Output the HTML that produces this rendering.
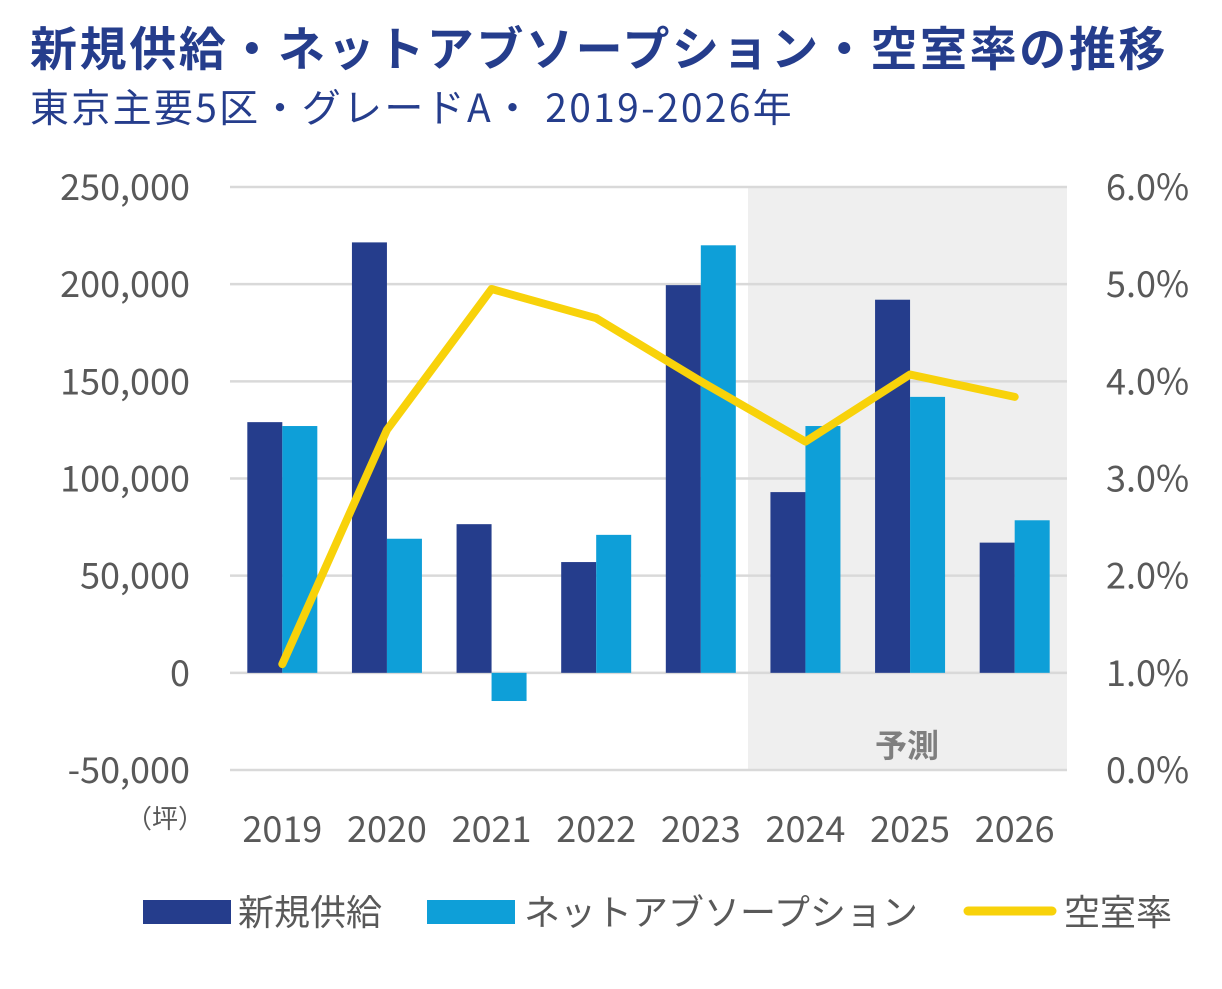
<!DOCTYPE html>
<html><head><meta charset="utf-8"><style>
body{margin:0;background:#fff;width:1222px;height:989px;overflow:hidden;font-family:"Noto Sans CJK JP","Liberation Sans",sans-serif;}
.t{position:absolute;left:30px;color:#253d8c;white-space:nowrap;font-family:"Noto Sans CJK JP",sans-serif;}
svg text{font-family:"Noto Sans CJK JP","Liberation Sans",sans-serif;}
</style></head><body>
<div class="t" style="top:12px;font-size:47px;line-height:68px;font-weight:bold;letter-spacing:2.6px;">新規供給・ネットアブソープション・空室率の推移</div>
<div class="t" style="top:78px;font-size:39px;line-height:56px;letter-spacing:2.3px;">東京主要5区・グレードA・ 2019-2026年</div>
<svg id="c" width="1222" height="989" style="position:absolute;left:0;top:0"></svg>
<script>
const categories=["2019","2020","2021","2022","2023","2024","2025","2026"];
const supply=[129000,221500,76500,57000,199500,93000,192000,67000];
const absorption=[127000,69000,-14500,71000,220000,127000,142000,78500];
const vacancy=[1.09,3.5,4.95,4.65,4.0,3.38,4.07,3.84];
const leftTicks=[250000,200000,150000,100000,50000,0,-50000];
const rightTicks=[6,5,4,3,2,1,0];
const NS="http://www.w3.org/2000/svg";
const svg=document.getElementById('c');
const x0=230,x1=1067,yTop=187,yBot=770;
const yL=v=>yTop+(250000-v)/300000*(yBot-yTop);
const yR=v=>yTop+(6-v)/6*(yBot-yTop);
const bw=(x1-x0)/categories.length;
const xc=i=>x0+bw*(i+0.5);
function mk(t,a,txt){const e=document.createElementNS(NS,t);for(const k in a)e.setAttribute(k,a[k]);if(txt!=null)e.textContent=txt;svg.appendChild(e);return e;}
let e=mk('rect',{x:748,y:yTop,width:x1-748,height:yBot-yTop,fill:'#efefef'});


leftTicks.forEach(v=>{
 let g=mk('line',{x1:x0,x2:x1,y1:yL(v),y2:yL(v),stroke:'#d9d9d9','stroke-width':2.5});
 
 
 let t=mk('text',{x:190,y:yL(v)+13,'text-anchor':'end','font-size':36,fill:'#595959'},v.toLocaleString('en-US'));
 
 
});
rightTicks.forEach(v=>{
 let t=mk('text',{x:1106,y:yR(v)+13,'font-size':36,fill:'#595959'},v.toFixed(1)+'%');
 
 
});
let u=mk('text',{x:165,y:828,'text-anchor':'middle','font-size':26,fill:'#595959'},'（坪）');


categories.forEach((c,i)=>{
 const a=supply[i],b=absorption[i];
 let r=mk('rect',{x:xc(i)-35,y:Math.min(yL(a),yL(0)),width:35,height:Math.abs(yL(a)-yL(0)),fill:'#253d8c'});
 
 
 r=mk('rect',{x:xc(i),y:Math.min(yL(b),yL(0)),width:35,height:Math.abs(yL(b)-yL(0)),fill:'#0e9fd8'});
 
 
 let t=mk('text',{x:xc(i),y:842,'text-anchor':'middle','font-size':36,fill:'#595959'},c);
 
 
});
let p=mk('polyline',{points:vacancy.map((v,i)=>xc(i)+','+yR(v)).join(' '),fill:'none',stroke:'#f8d20a','stroke-width':8,'stroke-linejoin':'round','stroke-linecap':'round'});


let f=mk('text',{x:907,y:757,'text-anchor':'middle','font-size':32,'font-weight':'bold',fill:'#7f7f7f'},'予測');


let l=mk('rect',{x:143,y:900,width:88,height:24,fill:'#253d8c'});


l=mk('text',{x:238,y:925,'font-size':36,fill:'#595959'},'新規供給');


l=mk('rect',{x:427,y:900,width:88,height:24,fill:'#0e9fd8'});


l=mk('text',{x:524,y:925,'font-size':36,fill:'#595959'},'ネットアブソープション');


l=mk('line',{x1:968,x2:1052,y1:911,y2:911,stroke:'#f8d20a','stroke-width':9,'stroke-linecap':'round'});


l=mk('text',{x:1064,y:925,'font-size':36,fill:'#595959'},'空室率');


</script>
</body></html>
